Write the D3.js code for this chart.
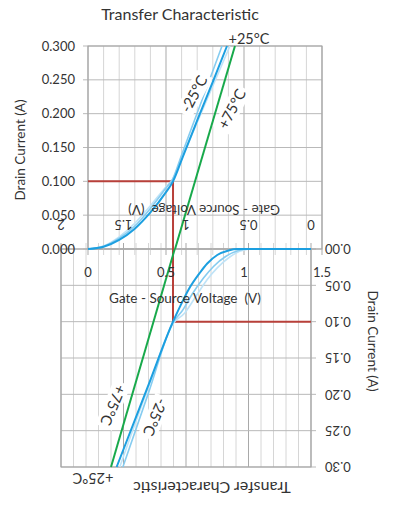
<!DOCTYPE html>
<html>
<head>
<meta charset="utf-8">
<script src="https://cdn.jsdelivr.net/npm/d3@7"></script>
<style>
	html, body { margin: 0; padding: 0; background: #fff; }
	svg { display: block; font-family: Lato, 'Open Sans', sans-serif; }
	text { fill: #333; }
</style>
</head>
<body>
<svg id="chart" width="393" height="506"></svg>
<script>
// upright chart (top half)
const upBlueV = [0, 0.1, 0.2, 0.3, 0.4, 0.5, 0.545, 0.609, 0.70, 0.80, 0.891];
const upBlueI = [0, 0.0034, 0.0135, 0.030, 0.054, 0.084, 0.100, 0.137, 0.190, 0.247, 0.300];
const upLightAV = [0, 0.1, 0.2, 0.3, 0.4, 0.5, 0.54, 0.60, 0.70, 0.80, 0.859];
const upLightAI = [0, 0.004, 0.016, 0.034, 0.060, 0.090, 0.102, 0.139, 0.201, 0.263, 0.300];
const upLightBV = [0, 0.1, 0.2, 0.3, 0.4, 0.5, 0.545, 0.60, 0.70, 0.80, 0.91];
const upLightBI = [0, 0.0045, 0.018, 0.038, 0.064, 0.092, 0.104, 0.134, 0.187, 0.241, 0.300];
const upGreenV = [0.558, 0.942];
const upGreenI = [0, 0.300];
const upRedV = [0, 0.545, 0.545];
const upRedI = [0.100, 0.100, 0];

// rotated copy (bottom half)
const rtBlueV = [0, 0.59, 0.66, 0.75, 0.83, 0.89, 0.98, 1.05, 1.104, 1.30, 1.555];
const rtBlueI = [0, 0, 0.002, 0.0083, 0.020, 0.033, 0.056, 0.080, 0.100, 0.187, 0.300];
const rtLightAV = [0, 0.50, 0.58, 0.68, 0.78, 0.86, 0.95, 1.03, 1.10, 1.30, 1.505];
const rtLightAI = [0, 0, 0.002, 0.010, 0.024, 0.040, 0.062, 0.085, 0.100, 0.198, 0.300];
const rtLightBV = [0, 0.46, 0.55, 0.65, 0.75, 0.83, 0.92, 1.01, 1.10, 1.30, 1.53];
const rtLightBI = [0, 0, 0.002, 0.011, 0.026, 0.042, 0.065, 0.088, 0.102, 0.190, 0.300];
const rtGreenV = [1.09, 1.60];
const rtGreenI = [0, 0.300];
const rtRedV = [1.104, 1.104, 0];
const rtRedI = [0, 0.100, 0.100];

const upXTicks = [0, 0.5, 1, 1.5];
const rtXTicks = [0, 0.5, 1, 1.5, 2];
const yTicks = [0, 0.05, 0.10, 0.15, 0.20, 0.25, 0.30];

const title = 'Transfer Characteristic';
const xTitle = 'Gate - Source Voltage  (V)';
const yTitle = 'Drain Current (A)';
const tempLabels = ['-25°C', '+75°C', '+25°C'];

const colors = { blue: '#1c9fe0', lightA: '#86ccf0', lightB: '#bfe3f7', green: '#18a94b', red: '#b8403a' };

const zip = (xs, ys) => xs.map((x, i) => [x, ys[i]]);

function drawGrid (g, x, y, dir) {
	const minor = x.ticks(Math.round((x.domain()[1] - x.domain()[0]) * 10));
	const [x0, x1] = x.range();
	const [y0, y1] = y.range();
	g.selectAll('line.vminor').data(minor).join('line')
		.attr('x1', d => x(d)).attr('x2', d => x(d))
		.attr('y1', y0 + dir * 6).attr('y2', y1)
		.attr('stroke', d => Math.abs(d * 2 - Math.round(d * 2)) < 1e-6 ? '#a9a9a9' : '#d6d6d6')
		.attr('stroke-width', 1);
	g.selectAll('line.h').data(yTicks).join('line')
		.attr('x1', x0).attr('x2', x1)
		.attr('y1', d => y(d)).attr('y2', d => y(d))
		.attr('stroke', '#b9b9b9').attr('stroke-width', 1);
	// y tick stubs beyond the axis side
	const side = dir > 0 ? Math.min(x0, x1) : Math.max(x0, x1);
	g.selectAll('line.ystub').data(yTicks).join('line')
		.attr('x1', side).attr('x2', side - dir * 5)
		.attr('y1', d => y(d)).attr('y2', d => y(d))
		.attr('stroke', '#b9b9b9');
	g.append('rect')
		.attr('x', Math.min(x0, x1)).attr('y', Math.min(y0, y1))
		.attr('width', Math.abs(x1 - x0)).attr('height', Math.abs(y1 - y0))
		.attr('fill', 'none').attr('stroke', '#a3a3a3');
}

function drawCurves (g, x, y, sets) {
	const line = d3.line().x(d => x(d[0])).y(d => y(d[1])).curve(d3.curveMonotoneX);
	const straight = d3.line().x(d => x(d[0])).y(d => y(d[1]));
	g.append('path').attr('d', straight(sets.red))
		.attr('fill', 'none').attr('stroke', colors.red).attr('stroke-width', 2);
	g.append('path').attr('d', line(sets.lightB))
		.attr('fill', 'none').attr('stroke', colors.lightB).attr('stroke-width', 1.6);
	g.append('path').attr('d', line(sets.lightA))
		.attr('fill', 'none').attr('stroke', colors.lightA).attr('stroke-width', 1.6);
	g.append('path').attr('d', line(sets.blue))
		.attr('fill', 'none').attr('stroke', colors.blue).attr('stroke-width', 2);
	g.append('path').attr('d', straight(sets.green))
		.attr('fill', 'none').attr('stroke', colors.green).attr('stroke-width', 2);
}

function boxedLabel (g, text, cx, cy, angle) {
	const lg = g.append('g').attr('transform', `translate(${[cx, cy]})rotate(${angle})`);
	const rect = lg.append('rect').attr('fill', '#fff');
	const t = lg.append('text').attr('text-anchor', 'middle').attr('dy', '0.35em')
		.style('font-size', '15px').text(text);
	const w = t.node().getComputedTextLength();
	rect.attr('x', -w / 2 - 3).attr('y', -9).attr('width', w + 6).attr('height', 18);
}

function textAt (g, str, cx, cy, angle, size, anchor = 'middle') {
	return g.append('text')
		.attr('transform', `translate(${[cx, cy]})rotate(${angle})`)
		.attr('text-anchor', anchor).attr('dy', '0.35em')
		.style('font-size', `${size}px`).style('white-space', 'pre')
		.text(str);
}

function onLoad () {
	const svg = d3.select('#chart');

	const xU = d3.scaleLinear([0, 1.5], [88, 322]);
	const yU = d3.scaleLinear([0, 0.3], [249, 46]);
	const xR = d3.scaleLinear([0, 2], [311, 61]);
	const yR = d3.scaleLinear([0, 0.3], [249, 467]);

	// GRIDS
	drawGrid(svg.append('g').attr('class', 'grid-rotated'), xR, yR, -1);
	drawGrid(svg.append('g').attr('class', 'grid-upright'), xU, yU, 1);

	// CURVES
	drawCurves(svg.append('g'), xR, yR, {
		blue: zip(rtBlueV, rtBlueI), lightA: zip(rtLightAV, rtLightAI), lightB: zip(rtLightBV, rtLightBI),
		green: zip(rtGreenV, rtGreenI), red: zip(rtRedV, rtRedI),
	});
	drawCurves(svg.append('g'), xU, yU, {
		blue: zip(upBlueV, upBlueI), lightA: zip(upLightAV, upLightAI), lightB: zip(upLightBV, upLightBI),
		green: zip(upGreenV, upGreenI), red: zip(upRedV, upRedI),
	});

	const labels = svg.append('g');

	// upright axes
	yTicks.forEach(d => textAt(labels, d3.format('.3f')(d), 75, yU(d), 0, 13, 'end'));
	upXTicks.forEach(d => textAt(labels, d3.format('')(d), xU(d), 272, 0, 13));
	textAt(labels, xTitle, 185, 298, 0, 13.5);
	textAt(labels, yTitle, 20, 150, -90, 13.5);
	textAt(labels, title, 180, 14, 0, 16);
	textAt(labels, tempLabels[2], 249, 39, 0, 14.5);
	boxedLabel(labels, tempLabels[0], 194, 94, -62);
	boxedLabel(labels, tempLabels[1], 232, 109, -62);

	// rotated axes
	yTicks.forEach(d => textAt(labels, d3.format('.2f')(d), 325, yR(d), 180, 13, 'end'));
	rtXTicks.forEach(d => textAt(labels, d3.format('')(d), xR(d), 225, 180, 13));
	textAt(labels, xTitle, 204, 210, 180, 13.5);
	textAt(labels, yTitle, 373, 341, 90, 13.5);
	textAt(labels, title, 212, 488, 180, 16);
	textAt(labels, tempLabels[2], 93, 478, 180, 14.5);
	boxedLabel(labels, tempLabels[0], 155, 417, 113);
	boxedLabel(labels, tempLabels[1], 113, 405, 113);
}

if (document.readyState === 'loading') {
	document.addEventListener('DOMContentLoaded', onLoad);
} else {
	onLoad();
}
</script>
</body>
</html>
